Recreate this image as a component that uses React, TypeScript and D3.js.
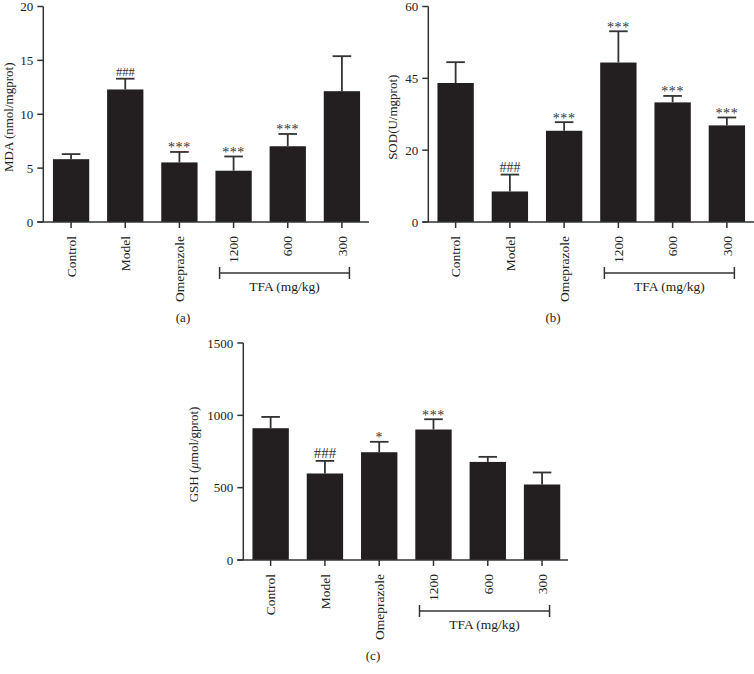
import React from 'react';
import * as d3 from 'd3';

const groups = ['Control', 'Model', 'Omeprazole', '1200', '600', '300'];

// MDA (nmol/mgprot)
const mdaMean = [5.83, 12.3, 5.53, 4.76, 7.03, 12.14];
const mdaSd = [0.47, 1.0, 0.97, 1.32, 1.14, 3.25];
const mdaMarks = ['', '###', '***', '***', '***', ''];
const mdaTicks = [0, 5, 10, 15, 20];
const mdaTickLabels = ['0', '5', '10', '15', '20'];

// SOD (U/mgprot) - tick labels as printed in the figure
const sodMean = [38.7, 8.5, 25.4, 44.4, 33.3, 26.9];
const sodSd = [5.8, 4.7, 2.4, 8.7, 1.8, 2.2];
const sodMarks = ['', '###', '***', '***', '***', '***'];
const sodTicks = [0, 20, 40, 60];
const sodTickLabels = ['0', '20', '45', '60'];

// GSH (umol/gprot)
const gshMean = [911, 598, 745, 902, 678, 522];
const gshSd = [78, 87, 72, 71, 35, 83];
const gshMarks = ['', '###', '*', '***', '', ''];
const gshTicks = [0, 500, 1000, 1500];
const gshTickLabels = ['0', '500', '1000', '1500'];

const FONT = "'Liberation Serif', 'DejaVu Serif', serif";
const BAR = '#231f20';
const INK = '#333';

interface PanelProps {
  mean: number[];
  sd: number[];
  marks: string[];
  ticks: number[];
  tickLabels: string[];
  yMax: number;
  axisX: number;
  xEnd: number;
  y0: number;
  yTop: number;
  band: [number, number];
  yLabel: React.ReactNode;
  yLabelX: number;
  letter: string;
  letterX: number;
  hashSize: number;
}

const Panel: React.FC<PanelProps> = (p) => {
  const x = d3.scaleBand<string>().domain(groups).range(p.band).paddingInner(0.33).paddingOuter(0.165);
  const y = d3.scaleLinear().domain([0, p.yMax]).range([p.y0, p.yTop]);
  const bw = x.bandwidth();
  const cx = (g: string) => (x(g) as number) + bw / 2;
  const bx0 = cx('1200') - 14;
  const bx1 = cx('300') + 7.5;
  const by = p.y0 + 51;

  return (
    <g fontFamily={FONT} fill="#222">
      {/* bars */}
      {groups.map((g, i) => (
        <rect key={g} x={x(g)} y={y(p.mean[i])} width={bw} height={p.y0 - y(p.mean[i])} fill={BAR} />
      ))}
      {/* error bars (upper half) */}
      {groups.map((g, i) => {
        const top = y(p.mean[i] + p.sd[i]);
        return (
          <g key={g} stroke={INK} strokeWidth={1.8}>
            <line x1={cx(g)} x2={cx(g)} y1={y(p.mean[i])} y2={top} />
            <line x1={cx(g) - 9.3} x2={cx(g) + 9.3} y1={top} y2={top} />
          </g>
        );
      })}
      {/* significance marks */}
      {groups.map((g, i) => {
        const m = p.marks[i];
        if (!m) return null;
        const top = y(p.mean[i] + p.sd[i]);
        const isHash = m.startsWith('#');
        return (
          <text key={g} x={cx(g)} y={isHash ? top - 2.5 : top + 0.5} textAnchor="middle"
            fontSize={isHash ? p.hashSize : 14} letterSpacing={isHash ? 0 : 0.6} fill="#333">{m}</text>
        );
      })}
      {/* axes */}
      <line x1={p.axisX} x2={p.axisX} y1={p.yTop} y2={p.y0} stroke={INK} strokeWidth={1.5} />
      <line x1={p.axisX - 6} x2={p.xEnd} y1={p.y0} y2={p.y0} stroke={INK} strokeWidth={1.5} />
      {p.ticks.map((t, i) => (
        <g key={t}>
          <line x1={p.axisX - 6} x2={p.axisX} y1={y(t)} y2={y(t)} stroke={INK} strokeWidth={1.5} />
          <text x={p.axisX - 10} y={y(t)} dy="0.35em" textAnchor="end" fontSize={13}>{p.tickLabels[i]}</text>
        </g>
      ))}
      {groups.map((g) => (
        <g key={g}>
          <line x1={cx(g)} x2={cx(g)} y1={p.y0} y2={p.y0 + 6} stroke={INK} strokeWidth={1.5} />
          <text transform={`translate(${cx(g)},${p.y0 + 14}) rotate(-90)`} dy="0.35em" textAnchor="end" fontSize={13.5}>{g}</text>
        </g>
      ))}
      {/* y label */}
      <text transform={`translate(${p.yLabelX},${(p.y0 + p.yTop) / 2 + 3}) rotate(-90)`} dy="0.35em" textAnchor="middle" fontSize={13}>{p.yLabel}</text>
      {/* TFA bracket */}
      <g stroke={INK} strokeWidth={1.5}>
        <line x1={bx0} x2={bx1} y1={by} y2={by} />
        <line x1={bx0} x2={bx0} y1={by - 6} y2={by + 6} />
        <line x1={bx1} x2={bx1} y1={by - 6} y2={by + 6} />
      </g>
      <text x={(bx0 + bx1) / 2} y={by + 18} textAnchor="middle" fontSize={13.5}>TFA (mg/kg)</text>
      <text x={p.letterX} y={p.y0 + 100} textAnchor="middle" fontSize={13}>{p.letter}</text>
    </g>
  );
};

const App: React.FC = () => {
  return (
    <svg width={754} height={674} style={{ position: 'absolute', left: 0, top: 0, background: '#fff' }}>
      <Panel mean={mdaMean} sd={mdaSd} marks={mdaMarks} ticks={mdaTicks} tickLabels={mdaTickLabels}
        yMax={20} axisX={43.3} xEnd={369} y0={222} yTop={6.5} band={[44, 369]}
        yLabel="MDA (nmol/mgprot)" yLabelX={8} letter="(a)" letterX={183} hashSize={12.5} />
      <Panel mean={sodMean} sd={sodSd} marks={sodMarks} ticks={sodTicks} tickLabels={sodTickLabels}
        yMax={60} axisX={428.3} xEnd={754} y0={222} yTop={6.5} band={[428.5, 754]}
        yLabel="SOD(U/mgprot)" yLabelX={392} letter="(b)" letterX={553} hashSize={14} />
      <Panel mean={gshMean} sd={gshSd} marks={gshMarks} ticks={gshTicks} tickLabels={gshTickLabels}
        yMax={1500} axisX={243.3} xEnd={568} y0={560} yTop={343} band={[243.5, 569.2]}
        yLabel={<><tspan>GSH (</tspan><tspan fontStyle="italic">μ</tspan><tspan>mol/gprot)</tspan></>}
        yLabelX={193} letter="(c)" letterX={373} hashSize={15} />
    </svg>
  );
};

export default App;
